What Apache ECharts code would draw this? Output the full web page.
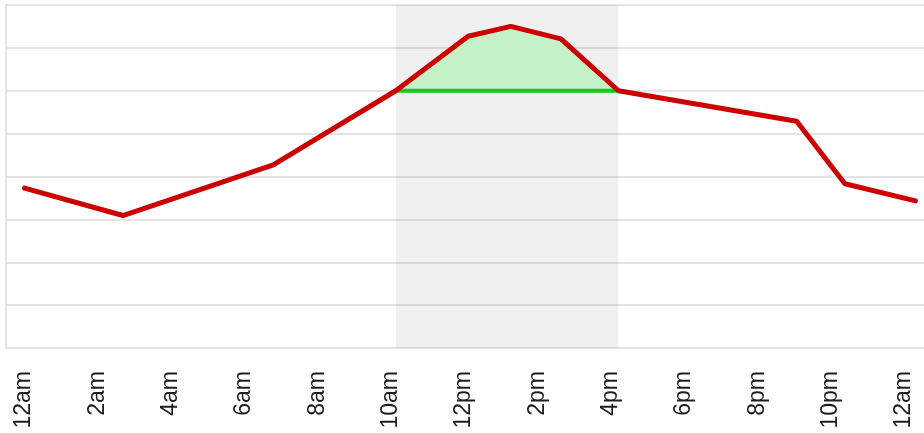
<!DOCTYPE html>
<html>
<head>
<meta charset="utf-8">
<script src="https://cdn.jsdelivr.net/npm/echarts@6/dist/echarts.min.js"></script>
<style>
    html, body {
        margin: 0;
        padding: 0;
        background: #fff;
    }
    #main {
        width: 924px;
        height: 433px;
    }
</style>
</head>
<body>
<div id="main"></div>
<script>
// hours of the day (0 = 12am) and the value of the red line at each one
var hours = [0, 2.65, 6.7, 10, 11.95, 13.1, 14.45, 16, 20.8, 22.1, 24]
var values = [3.73, 3.09, 4.27, 6.0, 7.27, 7.5, 7.21, 6.0, 5.29, 3.83, 3.43]

// peak window (gray band) and its base level (green line)
var peakStart = 10
var peakEnd = 16
var peakBase = 6

// x axis labels
var tickHours = [0, 2, 4, 6, 8, 10, 12, 14, 16, 18, 20, 22, 24]
var tickLabels = ['12am', '2am', '4am', '6am', '8am', '10am', '12pm', '2pm', '4pm', '6pm', '8pm', '10pm', '12am']

var lineData = hours.map(function (h, i) { return [h, values[i]] })
var peakData = lineData.filter(function (p) { return p[0] >= peakStart && p[0] <= peakEnd })

var chartDom = document.getElementById('main')
var myChart = echarts.init(chartDom)
var option

option = {
    animation: false,
    backgroundColor: '#fff',
    grid: {
        left: 6,
        right: -10,
        top: 5,
        bottom: 85,
        outerBoundsMode: 'none',
        containLabel: false,
        show: true,
        borderColor: '#e4e4e4',
        borderWidth: 2
    },
    xAxis: [
        {
            type: 'value',
            min: -0.5,
            max: 24.5,
            axisLine: { show: false },
            axisTick: { show: false },
            splitLine: { show: false },
            axisLabel: { show: false }
        },
        {
            // label row only, spaced a little tighter than the plot like the original
            type: 'value',
            position: 'bottom',
            min: -0.49,
            max: 24.82,
            axisLine: { show: false },
            axisTick: { show: false },
            splitLine: { show: false },
            axisLabel: {
                customValues: tickHours,
                rotate: 90,
                margin: 23,
                fontFamily: 'Liberation Sans',
                fontSize: 23,
                color: '#1e1e1e',
                formatter: function (value) {
                    return tickLabels[tickHours.indexOf(value)]
                }
            }
        }
    ],
    yAxis: {
        type: 'value',
        min: 0,
        max: 8,
        interval: 1,
        axisLine: { show: false },
        axisTick: { show: false },
        axisLabel: { show: false },
        splitLine: {
            lineStyle: { color: '#e4e4e4', width: 2 }
        }
    },
    series: [
        {
            // gray band + green fill over the base level
            type: 'line',
            data: peakData,
            symbol: 'none',
            lineStyle: { width: 0 },
            areaStyle: { color: '#c4f1c6', origin: peakBase, opacity: 1 },
            markArea: {
                silent: true,
                itemStyle: { color: 'rgba(0,0,0,0.06)' },
                data: [[{ xAxis: peakStart }, { xAxis: peakEnd }]]
            },
            z: 2
        },
        {
            // base level
            type: 'line',
            data: [[peakStart, peakBase], [peakEnd, peakBase]],
            symbol: 'none',
            lineStyle: { color: '#10cc10', width: 4 },
            z: 3
        },
        {
            type: 'line',
            data: lineData,
            symbol: 'none',
            lineStyle: { color: '#cc0000', width: 5, cap: 'round', join: 'round' },
            z: 4
        }
    ]
}

myChart.setOption(option)
</script>
</body>
</html>
